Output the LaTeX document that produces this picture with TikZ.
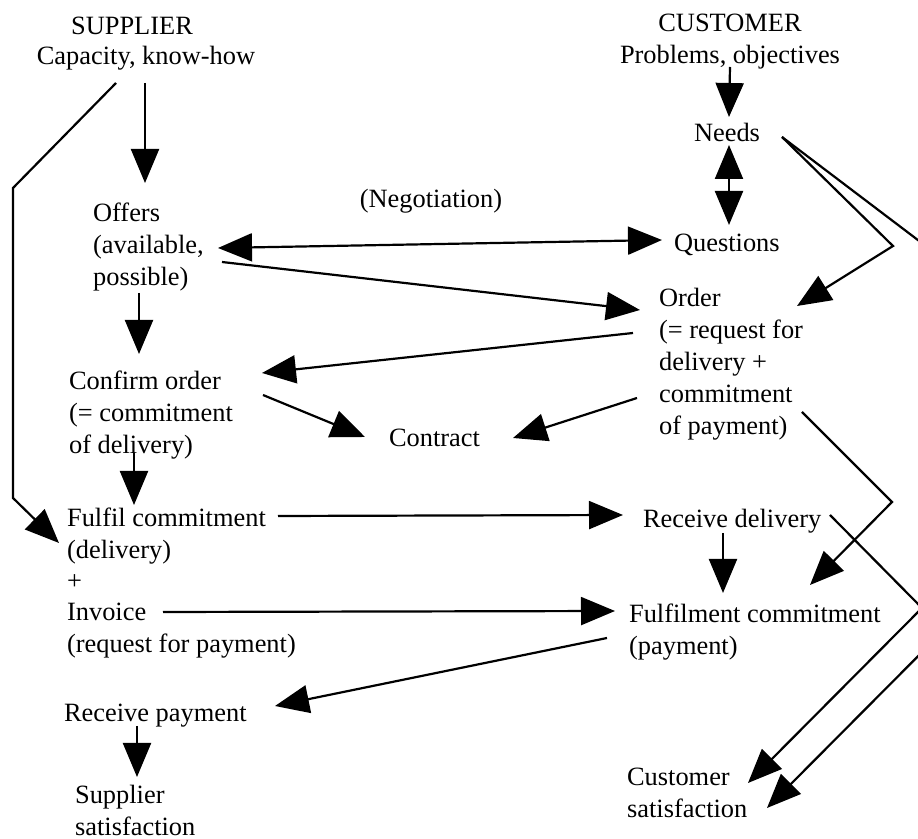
\documentclass[tikz,border=0pt]{standalone}
\usepackage{fontspec}
\setmainfont{Liberation Serif}
\usetikzlibrary{arrows.meta}

\begin{document}
\begin{tikzpicture}[
	x=0.5pt,y=-0.5pt,
	>={Triangle[length=17pt,width=14pt]},
	line width=1.1pt,
	% Item style
	item/.style={inner sep=0pt,align=left,anchor=north west,font=\fontsize{13.2}{16}\selectfont},
	% Heading style
	head/.style={item,align=center,anchor=north}
	]
	\useasboundingbox (0,0) rectangle (918,839);
	\clip (0,0) rectangle (918,839);
	%% Supplier side
	\node (supplier) [head] at (132,16) {SUPPLIER};
	\node (capacity) [head] at (146,45) {Capacity, know-how};
	\node (offers) [item] at (92,202) {Offers\\(available,\\possible)};
	\node (confirm) [item] at (68,370) {Confirm order\\(= commitment\\of delivery)};
	\node (fulfil) [item] at (66,507) {Fulfil commitment\\(delivery)};
	\node (plus) [item,anchor=base west] at (66,590) {+};
	\node (invoice) [item] at (66,602) {Invoice\\(request for payment)};
	\node (recpay) [item] at (63,703) {Receive payment};
	\node (supsat) [item] at (74,784) {Supplier\\satisfaction};
	%% Middle
	\node (negotiation) [head] at (431,188) {(Negotiation)};
	\node (contract) [item] at (388,428) {Contract};
	%% Customer side
	\node (customer) [head] at (730,13) {CUSTOMER\\Problems, objectives};
	\node (needs) [head] at (727,122) {Needs};
	\node (questions) [item] at (673,233) {Questions};
	\node (order) [item] at (658,287) {Order\\(= request for\\delivery +\\commitment\\of payment)};
	\node (recdel) [item] at (642,508) {Receive delivery};
	\node (fulfilment) [item] at (628,603) {Fulfilment commitment\\(payment)};
	\node (custsat) [item] at (626,767) {Customer\\satisfaction};

	%% Supplier flow
	\draw [->] ([shift={(-1,38)}]capacity.north) -- ([shift={(53,-19)}]offers.north west);
	\draw [->] ([shift={(-30,38)}]capacity.north) -- ++(-103,105) -- ++(0,310) -- ([shift={(-7,36)}]fulfil.north west);
	\draw [->] ([shift={(47,91)}]offers.north west) -- ([shift={(71,-16)}]confirm.north west);
	\draw [->] ([shift={(66,83)}]confirm.north west) -- ([shift={(68,-2)}]fulfil.north west);
	\draw [->] ([shift={(74,23)}]recpay.north west) -- ([shift={(63,-7)}]supsat.north west);
	%% Negotiation and contract
	\draw [<->] ([shift={(126,46)}]offers.north west) -- ([shift={(-11,7)}]questions.north west);
	\draw [->] ([shift={(130,60)}]offers.north west) -- ([shift={(-18,23)}]order.north west);
	\draw [->] ([shift={(-25,46)}]order.north west) -- ([shift={(194,3)}]confirm.north west);
	\draw [->] ([shift={(195,25)}]confirm.north west) -- ([shift={(-23,9)}]contract.north west);
	\draw [->] ([shift={(-21,111)}]order.north west) -- ([shift={(125,10)}]contract.north west);
	%% Delivery and payment
	\draw [->] ([shift={(212,9)}]fulfil.north west) -- ([shift={(-19,7)}]recdel.north west);
	\draw [->] ([shift={(97,10)}]invoice.north west) -- ([shift={(-13,8)}]fulfilment.north west);
	\draw [->] ([shift={(81,25)}]recdel.north west) -- ([shift={(95,-10)}]fulfilment.north west);
	\draw [->] ([shift={(-21,35)}]fulfilment.north west) -- ([shift={(212,3)}]recpay.north west);
	%% Customer flow
	\draw [->] ([shift={(0,54)}]customer.north) -- ([shift={(2,-5)}]needs.north);
	\draw [<->] ([shift={(2,23)}]needs.north) -- ([shift={(56,-8)}]questions.north west);
	\draw [->] ([shift={(55,15)}]needs.north) -- ++(111,109) -- ([shift={(139,19)}]order.north west);
	\draw [->] ([shift={(55,15)}]needs.north) -- ++(372,282) -- ([shift={(141,41)}]custsat.north west);
	\draw [->] ([shift={(144,125)}]order.north west) -- ++(90,90) -- ([shift={(182,-18)}]fulfilment.north west);
	\draw [->] ([shift={(188,7)}]recdel.north west) -- ++(92,93) -- ([shift={(122,16)}]custsat.north west);
\end{tikzpicture}
\end{document}
